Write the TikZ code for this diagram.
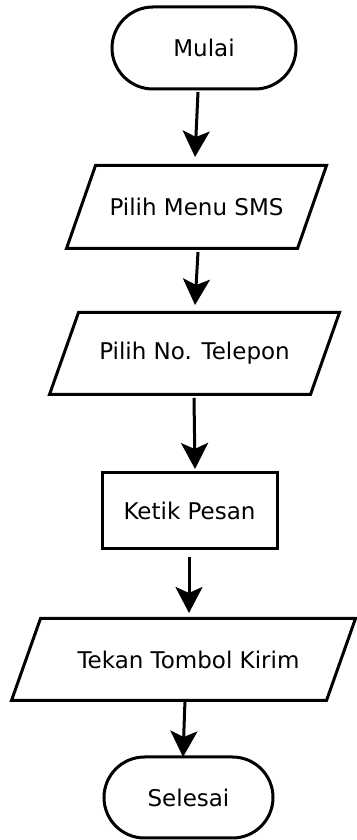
\documentclass[tikz,border=0pt]{standalone}
\usepackage{fontspec}
\setmainfont{DejaVu Sans}
\usetikzlibrary{shapes.misc,arrows.meta,calc}
\begin{document}
\begin{tikzpicture}[x=1pt,y=1pt,
  base/.style={line width=3pt,inner sep=0pt,font=\fontsize{23}{27}\selectfont,text=black},
  term/.style={base,draw=black,rounded rectangle},
  io/.style={base,rectangle},
  proc/.style={base,draw=black,rectangle},
  para/.style={line width=3pt,line join=miter},
  arr/.style={line width=3pt,-{Stealth[length=26pt,width=27pt,inset=6pt]}}]
\useasboundingbox (0,0) rectangle (356,840);
\fill[white] (0,0) rectangle (356,840);
\node[term,minimum width=184pt,minimum height=82pt] (m) at (204,792) {Mulai};
\node[io,minimum width=257pt,minimum height=80pt] (s1) at (196.5,633) {Pilih Menu SMS};
\node[io,minimum width=287pt,minimum height=79pt] (s2) at (194.5,486.5) {Pilih No. Telepon};
\node[proc,minimum width=175pt,minimum height=76pt] (s3) at (189.5,329) {Ketik Pesan};
\node[io,minimum width=341pt,minimum height=79pt] (s4) at (183.5,180.5) {\hspace*{10pt}Tekan Tombol Kirim};
\node[term,minimum width=169pt,minimum height=81pt] (s5) at (188.5,42.5) {Selesai};
\foreach \n in {s1,s2,s4}
  \draw[para] (\n.south west) -- ([xshift=29pt]\n.north west) -- (\n.north east) -- ([xshift=-29pt]\n.south east) -- cycle;
\draw[arr] ($(m.center)+(-6,-44)$) -- ($(s1.center)+(-1.5,50)$);
\draw[arr] ($(s1.center)+(1.5,-45)$) -- ($(s2.center)+(0.5,48.5)$);
\draw[arr] ($(s2.center)+(-0.5,-44.5)$) -- ($(s3.center)+(5.5,42)$);
\draw[arr] ($(s3.center)+(-0.5,-46)$) -- ($(s4.center)+(5.5,46.5)$);
\draw[arr] ($(s4.center)+(1.5,-40.5)$) -- ($(s5.center)+(-5.5,40.5)$);
\end{tikzpicture}
\end{document}
